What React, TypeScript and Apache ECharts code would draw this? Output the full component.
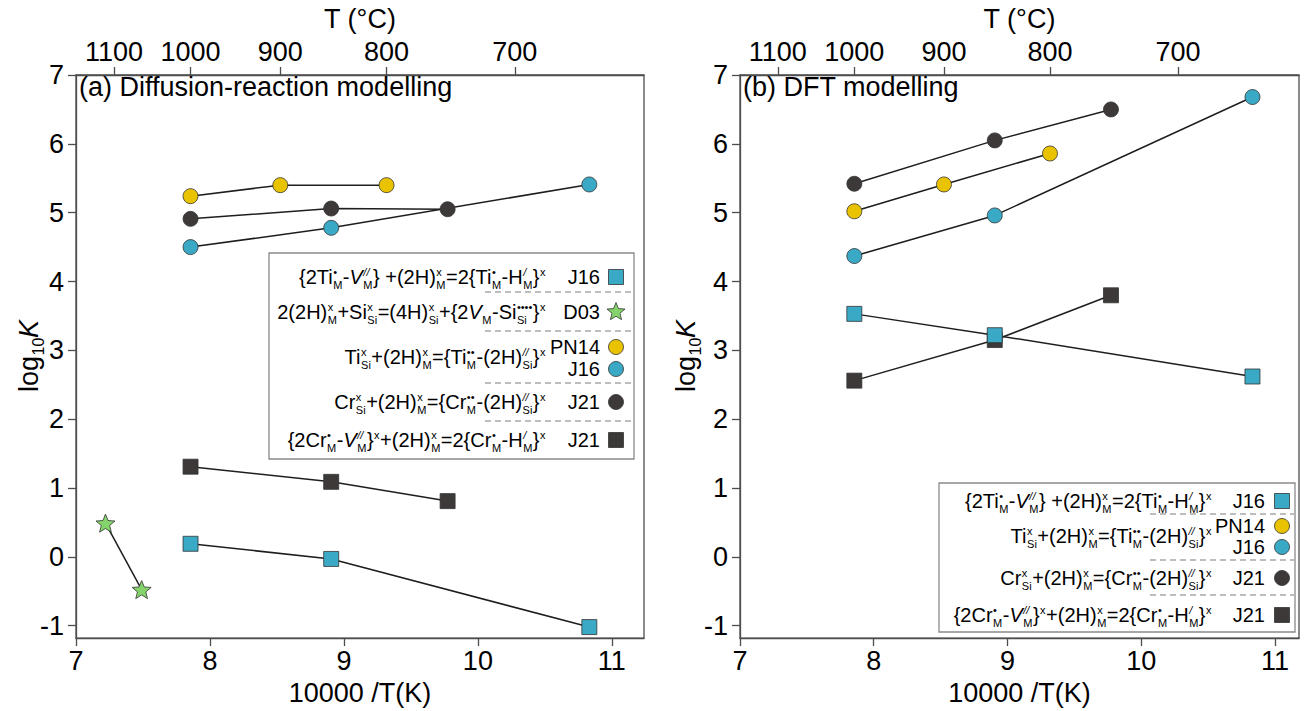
import React, { useEffect, useRef } from "react";
import * as echarts from "echarts";

const FONT = "'Liberation Sans', Arial, Helvetica, sans-serif";
const AX = "#4d4d4d";
const CYAN = "#3aa9c5";
const YELLOW = "#e9c200";
const DARK = "#3d3939";
const GREEN = "#84d36b";
const LINE = "#1e1e1e";

// ---- tick labels ----
const X_TICKS = [7, 8, 9, 10, 11];
const Y_TICKS = [-1, 0, 1, 2, 3, 4, 5, 6, 7];
const T_TICKS_C = [1100, 1000, 900, 800, 700];
const T_TICK_POS = [7.283, 7.855, 8.525, 9.318, 10.276]; // 10000/T(K) of the °C ticks

// ---- x positions of the data (10000/T) ----
const X_PN14 = [7.855, 8.525, 9.318];
const X_J21 = [7.855, 8.905, 9.774];
const X_J16 = [7.855, 8.905, 10.832];
const X_D03 = [7.22, 7.49];

// ---- panel (a): diffusion-reaction modelling ----
const A_TI_CIRC_PN14 = [5.24, 5.4, 5.4];
const A_TI_CIRC_J16 = [4.5, 4.78, 5.41];
const A_CR_CIRC_J21 = [4.91, 5.06, 5.05];
const A_CR_SQ_J21 = [1.31, 1.09, 0.81];
const A_TI_SQ_J16 = [0.19, -0.03, -1.02];
const A_STAR_D03 = [0.49, -0.475];

// ---- panel (b): DFT modelling ----
const B_TI_CIRC_PN14 = [5.02, 5.41, 5.86];
const B_TI_CIRC_J16 = [4.37, 4.96, 6.68];
const B_CR_CIRC_J21 = [5.42, 6.05, 6.5];
const B_CR_SQ_J21 = [2.56, 3.15, 3.8];
const B_TI_SQ_J16 = [3.53, 3.22, 2.62];

// ---- legend formulas ----
type Tok = { t?: string; it?: boolean; sup?: string; sub?: string };
const DOT = "\u2022";
const F_TI_PAIR: Tok[] = [
  { t: "{2Ti", sup: DOT, sub: "M" }, { t: "-" }, { t: "V", it: true, sup: "//", sub: "M" },
  { t: "} +(2H)", sup: "x", sub: "M" }, { t: "=2{Ti", sup: DOT, sub: "M" }, { t: "-H", sup: "/", sub: "M" }, { t: "}", sup: "x" },
];
const F_D03: Tok[] = [
  { t: "2(2H)", sup: "x", sub: "M" }, { t: "+Si", sup: "x", sub: "Si" }, { t: "=(4H)", sup: "x", sub: "Si" },
  { t: "+{2" }, { t: "V", it: true, sub: "M" }, { t: "-Si", sup: DOT + DOT + DOT + DOT, sub: "Si" }, { t: "}", sup: "x" },
];
const F_TI_SUB: Tok[] = [
  { t: "Ti", sup: "x", sub: "Si" }, { t: "+(2H)", sup: "x", sub: "M" }, { t: "={Ti", sup: DOT + DOT, sub: "M" },
  { t: "-(2H)", sup: "//", sub: "Si" }, { t: "}", sup: "x" },
];
const F_CR_SUB: Tok[] = [
  { t: "Cr", sup: "x", sub: "Si" }, { t: "+(2H)", sup: "x", sub: "M" }, { t: "={Cr", sup: DOT + DOT, sub: "M" },
  { t: "-(2H)", sup: "//", sub: "Si" }, { t: "}", sup: "x" },
];
const F_CR_PAIR: Tok[] = [
  { t: "{2Cr", sup: DOT, sub: "M" }, { t: "-" }, { t: "V", it: true, sup: "//", sub: "M" }, { t: "}", sup: "x" },
  { t: "+(2H)", sup: "x", sub: "M" }, { t: "=2{Cr", sup: DOT, sub: "M" }, { t: "-H", sup: "/", sub: "M" }, { t: "}", sup: "x" },
];

let ctx: CanvasRenderingContext2D | null = null;
function tw(text: string, font: string) {
  if (!ctx) ctx = document.createElement("canvas").getContext("2d");
  ctx!.font = font;
  return ctx!.measureText(text).width;
}
function fnt(size: number, italic?: boolean) {
  return `${italic ? "italic " : ""}${size}px ${FONT}`;
}
function txt(x: number, y: number, text: string, font: string, fill = "#000", align = "left") {
  return {
    type: "text", x, y, z: 20,
    style: { text, font, fill, align, verticalAlign: "middle", textAlign: align, textVerticalAlign: "middle" },
  };
}
function formula(toks: Tok[], fs: number, opt: any = {}) {
  const ss = opt.ss ?? Math.round(fs * 0.56);
  const supDy = opt.supDy ?? -0.25 * fs;
  const subDy = opt.subDy ?? 0.41 * fs;
  const gap = opt.gap ?? 1;
  const els: any[] = [];
  let x = 0;
  for (const k of toks) {
    if (k.t) {
      const f = fnt(fs, k.it);
      els.push(txt(x, 0, k.t, f));
      x += tw(k.t, f);
    }
    let w = 0;
    if (k.sup) {
      const f = fnt(ss, k.sup.includes("/"));
      els.push(txt(x + 0.5, supDy, k.sup, f));
      w = Math.max(w, tw(k.sup, f));
    }
    if (k.sub) {
      const f = fnt(ss);
      els.push(txt(x + 0.5, subDy, k.sub, f));
      w = Math.max(w, tw(k.sub, f));
    }
    if (w) x += w + gap;
  }
  return { els, width: x };
}

function starPoints(cx: number, cy: number, R: number, r: number) {
  const pts: number[][] = [];
  for (let i = 0; i < 10; i++) {
    const a = -Math.PI / 2 + (i * Math.PI) / 5;
    const rad = i % 2 ? r : R;
    pts.push([cx + rad * Math.cos(a), cy + rad * Math.sin(a)]);
  }
  return pts;
}
function starPath() {
  const p = starPoints(50, 50, 50, 22);
  return "path://" + p.map((q, i) => (i ? "L" : "M") + q[0].toFixed(2) + " " + q[1].toFixed(2)).join(" ") + " Z";
}

function marker(kind: string, color: string, x: number, y: number) {
  const style = { fill: color, stroke: "#333", lineWidth: 0.8 };
  if (kind === "sq") return { type: "rect", z: 20, shape: { x: x - 7.5, y: y - 7.5, width: 15, height: 15 }, style };
  if (kind === "star") return { type: "polygon", z: 20, shape: { points: starPoints(x, y, 9.5, 4.2) }, style };
  return { type: "circle", z: 20, shape: { cx: x, cy: y, r: 7.5 }, style };
}

type Leg = {
  box: number[]; fx: number; lx: number; mx: number; dash: number[]; dashY: number[];
  rows: { f: Tok[]; y: number }[]; labels: [string, number, string, string][];
};
const LEG_A: Leg = {
  box: [269, 253, 365, 206], fx: 546, lx: 600, mx: 616, dash: [485, 632], dashY: [292, 331, 383, 421],
  rows: [{ f: F_TI_PAIR, y: 277 }, { f: F_D03, y: 312 }, { f: F_TI_SUB, y: 357 }, { f: F_CR_SUB, y: 402 }, { f: F_CR_PAIR, y: 440 }],
  labels: [["J16", 277, "sq", CYAN], ["D03", 312, "star", GREEN], ["PN14", 347, "circ", YELLOW], ["J16", 369, "circ", CYAN], ["J21", 402, "circ", DARK], ["J21", 440, "sq", DARK]],
};
const LEG_B: Leg = {
  box: [939, 483, 356, 149], fx: 1212, lx: 1265, mx: 1282, dash: [1150, 1294], dashY: [514, 560, 595],
  rows: [{ f: F_TI_PAIR, y: 501 }, { f: F_TI_SUB, y: 536 }, { f: F_CR_SUB, y: 578 }, { f: F_CR_PAIR, y: 615 }],
  labels: [["J16", 501, "sq", CYAN], ["PN14", 526, "circ", YELLOW], ["J16", 547, "circ", CYAN], ["J21", 578, "circ", DARK], ["J21", 615, "sq", DARK]],
};

function legendEls(L: Leg) {
  const els: any[] = [];
  els.push({ type: "rect", z: 19, shape: { x: L.box[0], y: L.box[1], width: L.box[2], height: L.box[3] }, style: { fill: "#fff", stroke: "#8a8a8a", lineWidth: 1.3 } });
  for (const y of L.dashY)
    els.push({ type: "line", z: 20, shape: { x1: L.dash[0], y1: y, x2: L.dash[1], y2: y }, style: { stroke: "#a8a8a8", lineWidth: 1.5, lineDash: [6, 4] } });
  for (const r of L.rows) {
    const { els: ch, width } = formula(r.f, 20);
    els.push({ type: "group", x: L.fx - width, y: r.y, z: 20, children: ch });
  }
  for (const [t, y, kind, color] of L.labels) {
    els.push(txt(L.lx, y, t, fnt(20), "#000", "right"));
    els.push(marker(kind, color, L.mx, y));
  }
  return els;
}

function yLabel(cx: number, cy: number) {
  const { els, width } = formula([{ t: "log", sub: "10" }, { t: "K", it: true }], 27, { ss: 16, subDy: 9, gap: 0 });
  els.forEach((e: any) => (e.x -= width / 2));
  return { type: "group", x: cx, y: cy, rotation: Math.PI / 2, z: 20, children: els };
}

function buildOption() {
  const lab = { fontSize: 27, color: "#000", fontFamily: FONT };
  const axLine = { show: true, onZero: false, lineStyle: { color: AX, width: 1.3 } };
  const grids = [
    { left: 76, top: 74, width: 568, height: 569, show: true, borderColor: AX, borderWidth: 1.3 },
    { left: 740, top: 74, width: 559, height: 569, show: true, borderColor: AX, borderWidth: 1.3 },
  ];
  const maxX = [11.24, 11.18];
  const xAxis: any[] = [];
  const yAxis: any[] = [];
  [0, 1].forEach((g) => {
    xAxis.push({
      type: "value", gridIndex: g, position: "bottom", min: 7, max: maxX[g],
      name: "10000 /T(K)", nameLocation: "middle", nameGap: 36, nameTextStyle: lab,
      axisLine: axLine,
      axisTick: { show: true, inside: false, length: 8, lineStyle: { color: AX, width: 1.3 }, customValues: X_TICKS },
      axisLabel: { ...lab, margin: 9, customValues: X_TICKS },
      splitLine: { show: false },
    });
    xAxis.push({
      type: "value", gridIndex: g, position: "top", min: 7, max: maxX[g],
      name: "T (°C)", nameLocation: "middle", nameGap: 43, nameTextStyle: lab,
      axisLine: axLine,
      axisTick: { show: true, inside: false, length: 8, lineStyle: { color: AX, width: 1.3 }, customValues: T_TICK_POS },
      axisLabel: {
        ...lab, margin: 10, customValues: T_TICK_POS,
        formatter: (v: number) => {
          let bi = 0;
          T_TICK_POS.forEach((p, i) => { if (Math.abs(p - v) < Math.abs(T_TICK_POS[bi] - v)) bi = i; });
          return String(T_TICKS_C[bi]);
        },
      },
      splitLine: { show: false },
    });
    yAxis.push({
      type: "value", gridIndex: g, min: -1.18, max: 7,
      axisLine: axLine,
      axisTick: { show: true, inside: false, length: 8, lineStyle: { color: AX, width: 1.3 }, customValues: Y_TICKS },
      axisLabel: { ...lab, margin: 12, customValues: Y_TICKS },
      splitLine: { show: false },
    });
  });

  const series: any[] = [];
  const STAR = starPath();
  function add(g: number, xs: number[], ys: number[], sym: string, color: string, size: number) {
    const data = xs.map((x, i) => [x, ys[i]]);
    series.push({ type: "line", xAxisIndex: g * 2, yAxisIndex: g, data, symbol: "none", silent: true, z: 2, lineStyle: { color: LINE, width: 1.5 } });
    series.push({
      type: "scatter", xAxisIndex: g * 2, yAxisIndex: g, data, z: 3,
      symbol: sym === "star" ? STAR : sym === "sq" ? "rect" : "circle", symbolKeepAspect: true,
      symbolSize: size, itemStyle: { color, borderColor: "#333", borderWidth: 0.8, opacity: 1 },
    });
  }
  add(0, X_PN14, A_TI_CIRC_PN14, "circ", YELLOW, 15);
  add(0, X_J16, A_TI_CIRC_J16, "circ", CYAN, 15);
  add(0, X_J21, A_CR_CIRC_J21, "circ", DARK, 15);
  add(0, X_J21, A_CR_SQ_J21, "sq", DARK, 15);
  add(0, X_J16, A_TI_SQ_J16, "sq", CYAN, 15);
  add(0, X_D03, A_STAR_D03, "star", GREEN, 19);

  add(1, X_PN14, B_TI_CIRC_PN14, "circ", YELLOW, 15);
  add(1, X_J16, B_TI_CIRC_J16, "circ", CYAN, 15);
  add(1, X_J21, B_CR_CIRC_J21, "circ", DARK, 15);
  add(1, X_J21, B_CR_SQ_J21, "sq", DARK, 15);
  add(1, X_J16, B_TI_SQ_J16, "sq", CYAN, 15);

  const graphic = [
    txt(79, 87, "(a) Diffusion-reaction modelling", fnt(27)),
    txt(743, 87, "(b) DFT modelling", fnt(27)),
    yLabel(29, 356),
    yLabel(686, 356),
    ...legendEls(LEG_A),
    ...legendEls(LEG_B),
  ];

  return {
    animation: false,
    backgroundColor: "#fff",
    textStyle: { fontFamily: FONT },
    grid: grids,
    xAxis,
    yAxis,
    series,
    graphic: { elements: graphic },
  };
}

export default function App() {
  const ref = useRef<HTMLDivElement>(null);
  useEffect(() => {
    const chart = echarts.init(ref.current!, null, { renderer: "svg", width: 1310, height: 711 });
    chart.setOption(buildOption() as any);
    return () => chart.dispose();
  }, []);
  return (
    <div
      ref={ref}
      style={{ position: "absolute", left: 0, top: 0, width: 1310, height: 711, background: "#fff" }}
    />
  );
}
